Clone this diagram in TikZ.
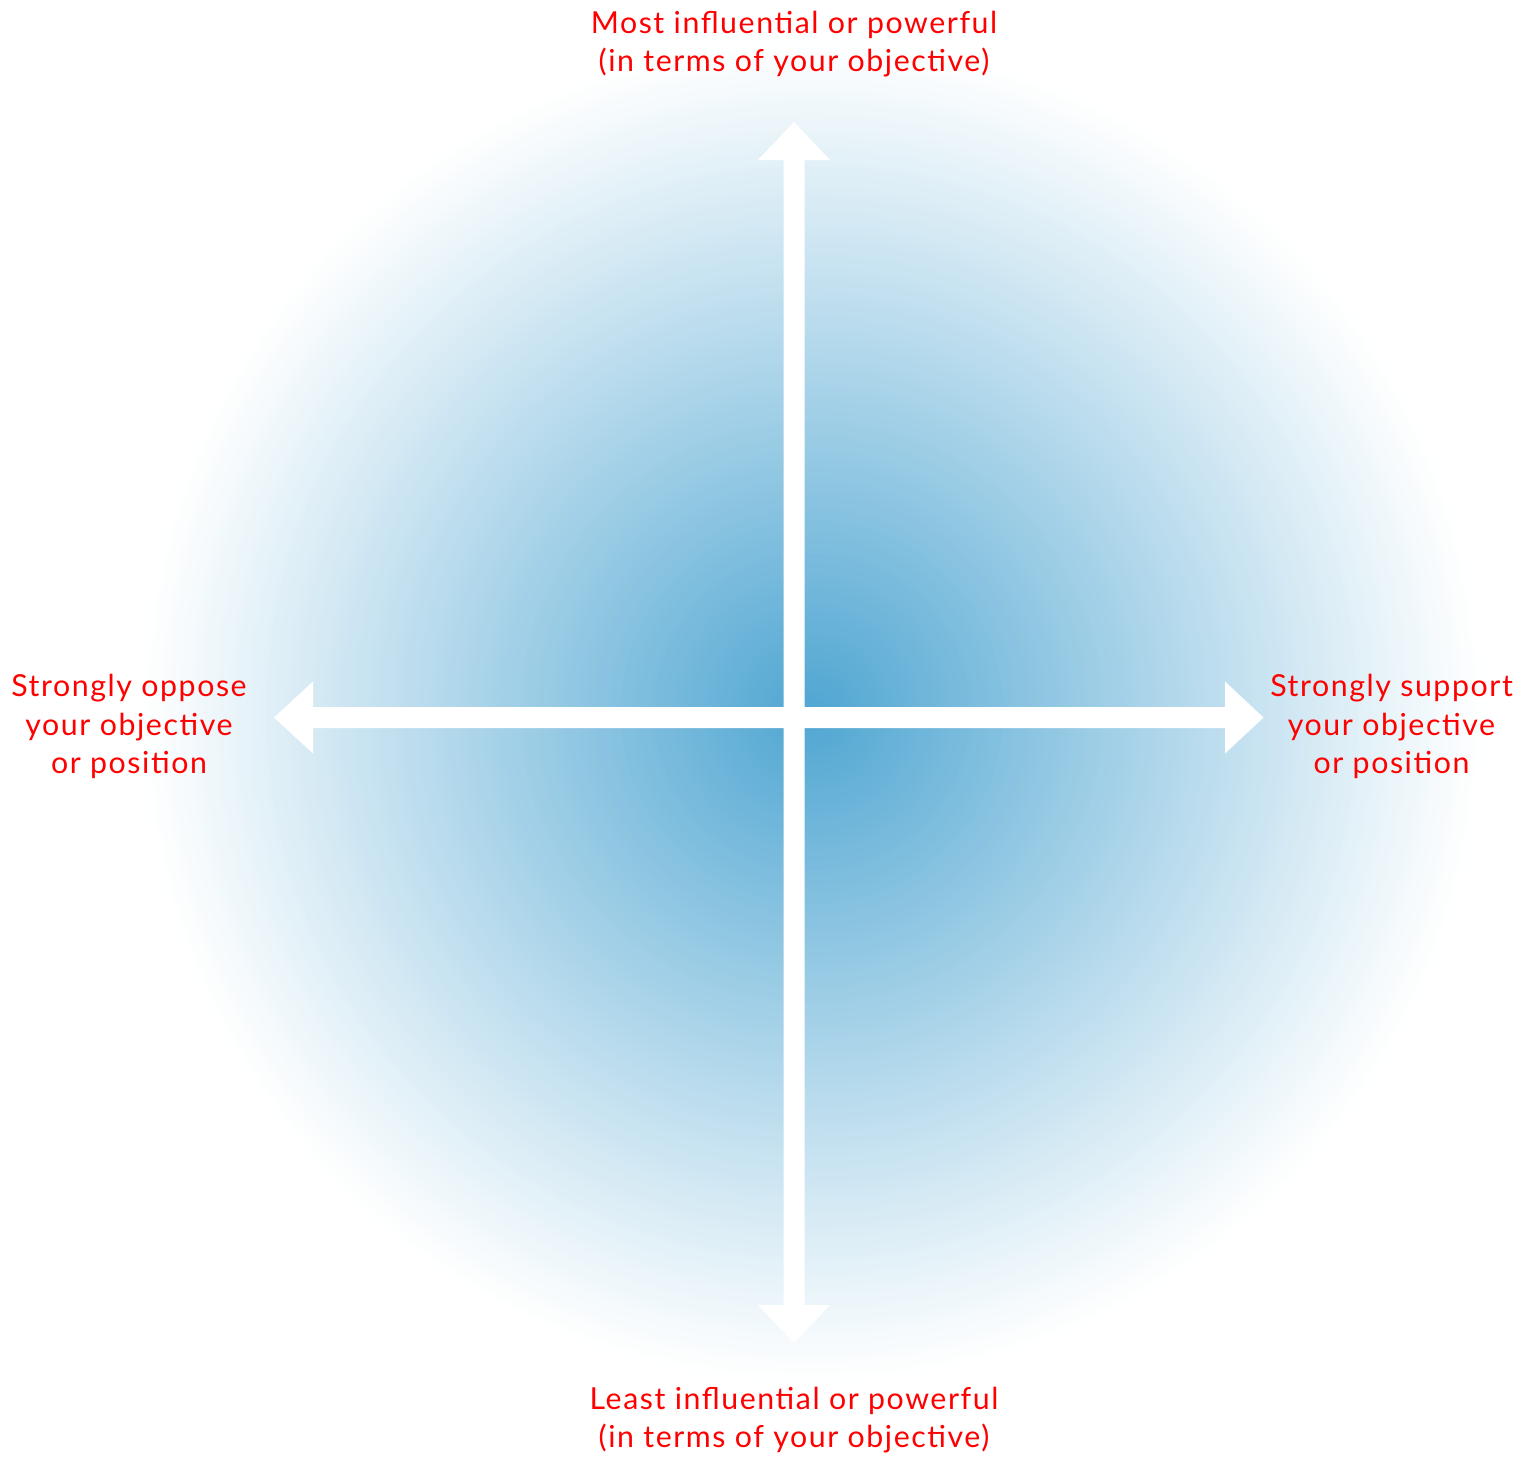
\documentclass[tikz,border=0pt]{standalone}
\usepackage{fontspec}
\setmainfont{Lato}[LetterSpace=5.2]
\definecolor{labelred}{RGB}{255,0,0}
\definecolor{glowcore}{RGB}{80,166,210}
\begin{document}
\begin{tikzpicture}[x=1pt,y=-1pt,
  axislabel/.style={text=labelred, font=\fontsize{30.3}{38.3}\selectfont, align=center, inner sep=0pt, anchor=base},
  axisbar/.style={fill=white, draw=none}]
\useasboundingbox (0,0) rectangle (1533,1456);
\fill[white] (0,0) rectangle (1533,1456);
% radial glow, built from concentric discs (linear fade to white)
\coordinate (glowc) at (812,712);
\foreach \i in {0,...,139}{
  \pgfmathsetmacro\rad{670*(1-\i/140)}
  \pgfmathsetmacro\pct{100*((\i+0.5)/140)^1.05}
  \fill[glowcore!\pct!white] (glowc) circle (\rad);
}
% vertical double arrow
\coordinate (vtop) at (794,122);
\coordinate (vbot) at (794,1343);
\fill[axisbar] (vtop) -- (830,160) -- (804.5,160) -- (804.5,1305) -- (830,1305) -- (vbot)
  -- (758,1305) -- (783.5,1305) -- (783.5,160) -- (758,160) -- cycle;
% horizontal double arrow
\coordinate (hleft) at (274,717.5);
\coordinate (hright) at (1263.5,717.5);
\fill[axisbar] (hleft) -- (313,681.5) -- (313,707) -- (1225,707) -- (1225,681.5) -- (hright)
  -- (1225,753.5) -- (1225,728) -- (313,728) -- (313,753.5) -- cycle;
% labels (base anchor = baseline of the last line)
\node[axislabel] (toplab) at (794,71.7) {Most influential or powerful\\(in terms of your objective)};
\node[axislabel] (botlab) at (794,1447.5) {Least influential or powerful\\(in terms of your objective)};
\node[axislabel] (leftlab) at (129,773.3) {Strongly oppose\\your objective\\or position};
\node[axislabel] (rightlab) at (1391.5,773.3) {Strongly support\\your objective\\or position};
\end{tikzpicture}
\end{document}
